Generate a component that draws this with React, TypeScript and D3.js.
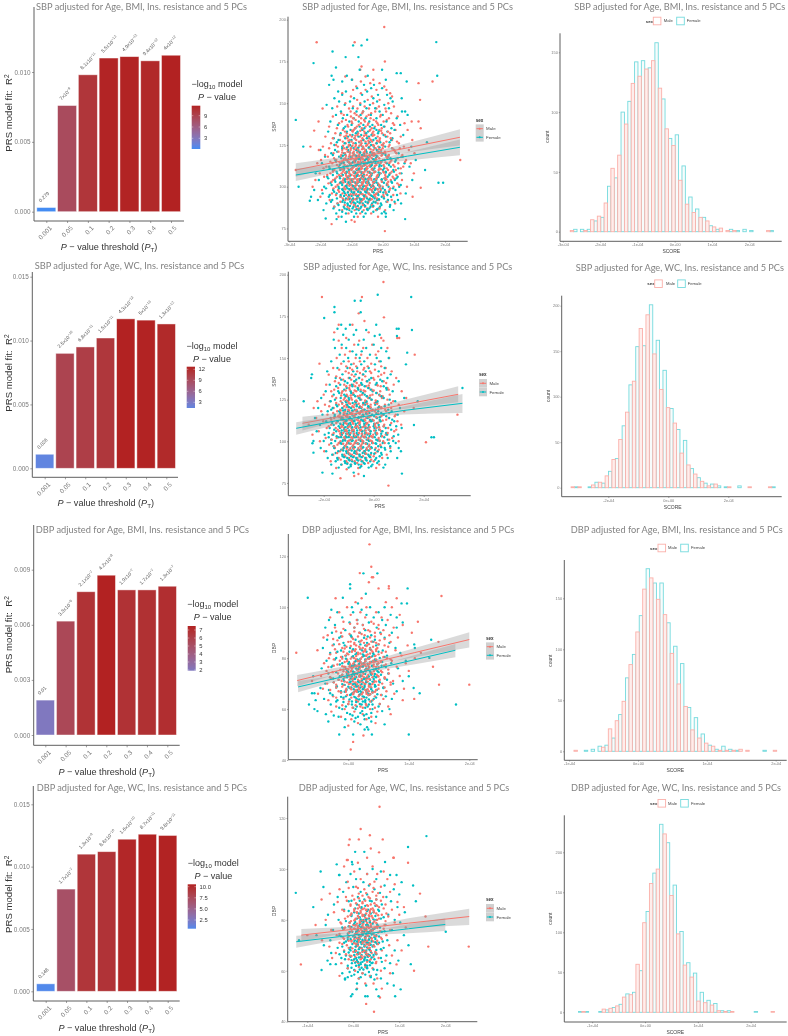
import React, { useEffect, useRef } from "react";
import * as d3 from "d3";

const thresholds = ["0.001", "0.05", "0.1", "0.2", "0.3", "0.4", "0.5"];

// R2 per threshold
const r2SbpBmi = [0.0003, 0.0076, 0.0098, 0.011, 0.0111, 0.0108, 0.0112];
const r2SbpWc = [0.0011, 0.009, 0.0095, 0.0102, 0.0117, 0.0116, 0.0113];
const r2DbpBmi = [0.0019, 0.0062, 0.0078, 0.0087, 0.0079, 0.0079, 0.0081];
const r2DbpWc = [0.0006, 0.0082, 0.011, 0.0112, 0.0122, 0.0126, 0.0125];

const pSbpBmi = ["0.279", "7x10^-9", "8.1x10^-11", "5.5x10^-12", "4.9x10^-12", "9.4x10^-12", "4x10^-12"];
const pSbpWc = ["0.026", "2.5x10^-10", "6.8x10^-11", "1.5x10^-11", "4.3x10^-13", "5x10^-13", "1.3x10^-12"];
const pDbpBmi = ["0.01", "3.3x10^-6", "2.1x10^-7", "4.2x10^-8", "1.9x10^-7", "1.7x10^-7", "1.3x10^-7"];
const pDbpWc = ["0.148", "1.7x10^-7", "1.3x10^-9", "8.6x10^-10", "1.6x10^-10", "8.7x10^-11", "9.8x10^-11"];

const titles = [
  "SBP adjusted for Age, BMI, Ins. resistance and 5 PCs",
  "SBP adjusted for Age, WC, Ins. resistance and 5 PCs",
  "DBP adjusted for Age, BMI, Ins. resistance and 5 PCs",
  "DBP adjusted for Age, WC, Ins. resistance and 5 PCs",
];

// histogram counts, 30 bins per sex
const histMaleSbpBmi = [1, 0, 1, 10, 13, 24, 53, 64, 90, 124, 130, 136, 143, 120, 86, 72, 43, 23, 16, 12, 9, 4, 3, 1, 1, 0, 0, 0, 0, 1];
const histFemaleSbpBmi = [2, 2, 2, 9, 12, 38, 45, 100, 109, 142, 143, 137, 158, 111, 78, 81, 55, 29, 19, 12, 5, 2, 0, 2, 1, 2, 1, 0, 0, 1];
const histMaleSbpWc = [1, 1, 0, 3, 6, 13, 31, 53, 83, 117, 175, 190, 147, 108, 88, 71, 38, 25, 15, 7, 2, 4, 0, 1, 0, 0, 1, 0, 0, 1];
const histFemaleSbpWc = [1, 0, 1, 6, 5, 18, 32, 68, 113, 155, 156, 201, 162, 129, 87, 64, 52, 21, 11, 5, 4, 2, 1, 0, 2, 0, 0, 0, 0, 1];
const histMaleDbpBmi = [1, 0, 0, 0, 4, 22, 30, 49, 85, 117, 159, 170, 149, 134, 96, 66, 44, 21, 13, 8, 5, 1, 1, 1, 2, 1, 0, 0, 0, 1];
const histFemaleDbpBmi = [0, 1, 2, 5, 6, 13, 36, 72, 95, 133, 179, 165, 165, 126, 103, 86, 43, 33, 17, 6, 2, 5, 2, 1, 0, 0, 0, 1, 0, 0];
const histMaleDbpWc = [0, 1, 0, 0, 4, 5, 8, 19, 22, 60, 112, 161, 179, 223, 146, 98, 59, 44, 14, 12, 9, 2, 1, 1, 0, 0, 0, 0, 0, 1];
const histFemaleDbpWc = [1, 1, 0, 1, 3, 6, 10, 23, 25, 52, 126, 174, 235, 212, 159, 101, 62, 49, 25, 15, 11, 2, 2, 0, 0, 0, 1, 0, 0, 0];

// scatter rows: first number is the outcome, the rest are PRS values in 1e-4
const maleSbpBmi = [
  [195.6, 0.05], [186.5, -2.12, -0.9], [175, 0.07], [172, -0.68], [170, -0.72, -0.3], [166, -1.2, -0.55], [164, -0.98, -0.3], [163, 1.6, -0.7], [162, 1.15, -0.4, -0.1], [160, -0.85, 0.05], [158, -0.95, -0.55, -0.2, 0.12], [156, -1.3, -0.7, 0.24], [154, -1.02, -0.35, 0.3], [152, 1.2, -0.82, -0.48, -0.1],
  [150, -1.2, -0.72, -0.31, 0.18], [148, -1.46, -0.95, -0.58, -0.12, 0.36], [146.8, -1.93, -1.08, -0.81, -0.44, -0.2, 0.09], [144, -1.33, -0.9, -0.66, -0.37, 0.27], [142, -1.6, -1.02, -0.76, -0.52, -0.08, 0.48], [140, -1.18, -0.87, -0.6, -0.29, 0.13], [139, -2.06, 0.93, 1.15], [138, -1.4, -0.98, -0.7, -0.46, -0.17, 0.33, 0.7], [136, -1.72, -1.11, -0.83, -0.55, -0.25, 0.06], [135, 1.22], [134, -1.28, -0.93, -0.64, -0.4, -0.11, 0.41, 0.8], [133.6, -2.2], [132, -1.52, -1.15, -0.79, -0.57, -0.33, -0.02, 0.24], [130, -1.84, -1.23, -0.99, -0.73, -0.49, -0.16, 0.15, 0.58], [128, -1.37, -1.06, -0.85, -0.61, -0.38, -0.1, 0.3, 0.95], [126, -1.66, -1.19, -0.94, -0.68, -0.45, -0.21, 0.03, 0.52], [124, -2.32, -1.92, -1.44, -1.1, -0.88, -0.63, -0.42, -0.14, 0.19, 0.68], [122, -2.05, -1.3, -1.03, -0.78, -0.56, -0.3, -0.05, 0.36, 0.84], [120, -1.58, -1.21, -0.96, -0.74, -0.51, -0.27, 0.08, 0.44, 1.02], [118, -1.76, -1.35, -1.08, -0.86, -0.65, -0.41, -0.18, 0.12, 0.6], [116, 2.49, -1.98, -1.49, -1.14, -0.91, -0.71, -0.47, -0.23, 0.01, 0.28, 0.75], [114, -2.1, -1.62, -1.26, -1.01, -0.8, -0.59, -0.34, -0.07, 0.21, 0.5, 0.9], [112, -1.81, -1.41, -1.17, -0.92, -0.69, -0.5, -0.26, 0.05, 0.38, 0.66], [110, -2.79, -1.55, -1.24, -1.0, -0.77, -0.54, -0.32, -0.13, 0.17, 0.42], [108, -2.02, -1.68, -1.32, -1.07, -0.84, -0.62, -0.39, -0.09, 0.23, 0.55, 1.0], [106, -1.88, -1.47, -1.16, -0.89, -0.67, -0.43, -0.19, 0.1, 0.32], [104, -2.16, -1.59, -1.27, -1.04, -0.82, -0.6, -0.36, -0.04, 0.26, 0.62], [102, -1.74, -1.38, -1.12, -0.87, -0.64, -0.44, -0.15, 0.14, 0.47], [100, -2.25, -1.51, -1.22, -0.97, -0.75, -0.53, -0.28, 0.0, 0.35, 0.78], [99.4, 1.22], [98, -1.95, -1.43, -1.05, -0.83, -0.58, -0.35, -0.06, 0.22], [96, -1.63, -1.29, -0.93, -0.7, -0.46, -0.2, 0.11, 0.57], [94, 0.96, -2.0, -1.36, -1.09, -0.79, -0.52, -0.24, 0.04], [92, -1.7, -1.2, -0.95, -0.66, -0.4, -0.12, 0.29], [90, -1.45, -1.01, -0.74, -0.48, -0.16, 0.4], [88, -1.56, -1.13, -0.86, -0.57, -0.31], [86, -1.3, -0.9, -0.61, -0.22, 0.08], [84, -1.1, -0.72, -0.37], [82, -1.42, -0.8, -0.15], [80, -1.0], [79, -0.9], [77.6, -1.64], [73.4, 0.07],
];
const maleCoreSbpBmi = [
  [145, -1.03, -0.63, -0.24, 0.11], [143, -1.25, -0.84, -0.45, -0.06], [141, -0.95, -0.69, -0.39, 0.2], [139, -1.31, -1.0, -0.57, -0.21, 0.03], [137, -1.13, -0.77, -0.48, -0.14, 0.37], [135, -1.47, -0.89, -0.67, -0.35, -0.03], [133, -1.21, -0.96, -0.59, -0.3, 0.17], [131, -1.36, -1.05, -0.81, -0.53, -0.27, 0.07], [129, -1.6, -1.14, -0.9, -0.65, -0.43, -0.09, 0.26], [127, -1.28, -1.0, -0.76, -0.55, -0.34, -0.12, 0.12, 0.46], [125, -1.5, -1.09, -0.86, -0.7, -0.5, -0.31, -0.03, 0.22], [123, -1.72, -1.24, -1.02, -0.82, -0.62, -0.44, -0.23, 0.0, 0.31, 0.55], [121, -1.42, -1.13, -0.93, -0.73, -0.57, -0.37, -0.17, 0.07, 0.4], [119, -1.85, -1.33, -1.06, -0.9, -0.75, -0.6, -0.42, -0.25, -0.02, 0.2, 0.63], [117, -1.56, -1.2, -0.98, -0.83, -0.68, -0.52, -0.35, -0.11, 0.15, 0.48], [115, -1.68, -1.3, -1.1, -0.94, -0.79, -0.63, -0.46, -0.29, -0.06, 0.25, 0.72], [113, -1.47, -1.22, -1.03, -0.87, -0.72, -0.55, -0.4, -0.2, 0.03, 0.34], [111, -1.9, -1.37, -1.12, -0.97, -0.81, -0.66, -0.49, -0.33, -0.1, 0.13, 0.58], [109, -1.6, -1.28, -1.08, -0.9, -0.74, -0.58, -0.42, -0.24, 0.02, 0.29], [107, -1.78, -1.4, -1.18, -1.0, -0.85, -0.69, -0.51, -0.37, -0.16, 0.08, 0.44], [105, -1.52, -1.25, -1.06, -0.88, -0.71, -0.56, -0.38, -0.2, 0.06, 0.36], [103, -1.64, -1.33, -1.1, -0.93, -0.78, -0.61, -0.47, -0.26, -0.03, 0.18], [101, -1.45, -1.15, -0.99, -0.84, -0.67, -0.49, -0.32, -0.11, 0.16, 0.52], [99, -1.58, -1.26, -1.02, -0.86, -0.68, -0.54, -0.3, -0.08, 0.24], [97, -1.4, -1.11, -0.91, -0.72, -0.5, -0.33, -0.13, 0.09], [95, -1.5, -1.17, -0.94, -0.76, -0.56, -0.27, 0.02, 0.34], [93, -1.28, -1.04, -0.83, -0.6, -0.41, -0.18], [91, -1.36, -0.97, -0.69, -0.45, -0.23, 0.15], [89, -1.22, -0.92, -0.64, -0.34], [87, -1.08, -0.78, -0.5, -0.1],
];
const maleDenseSbpBmi = [
  [133.5, -0.98, -0.72, -0.42, -0.05], [130.5, -1.17, -0.88, -0.6, -0.32], [127.5, -1.1, -0.69, -0.46, -0.18], [124.5, -1.27, -0.97, -0.75, -0.53, -0.28, 0.02], [122.5, -1.16, -0.9, -0.66, -0.39, -0.12], [120.5, -1.3, -1.06, -0.82, -0.61, -0.33, -0.08], [118.5, -1.18, -0.97, -0.79, -0.54, -0.29, -0.04, 0.18], [116.5, -1.25, -1.04, -0.86, -0.63, -0.44, -0.21], [114.5, -1.38, -1.08, -0.9, -0.73, -0.56, -0.37, -0.14, 0.09], [112.5, -1.13, -0.95, -0.77, -0.61, -0.43, -0.25], [110.5, -1.29, -1.01, -0.85, -0.7, -0.52, -0.35, -0.06], [108.5, -1.2, -0.94, -0.8, -0.64, -0.47, -0.28, 0.04], [106.5, -1.33, -1.09, -0.92, -0.76, -0.59, -0.41, -0.17], [104.5, -1.14, -0.96, -0.79, -0.63, -0.46, -0.22, 0.12], [102.5, -1.26, -1.03, -0.83, -0.66, -0.5, -0.31], [100.5, -1.07, -0.89, -0.72, -0.55, -0.36, -0.1], [98.5, -1.2, -0.95, -0.78, -0.6, -0.4, -0.16], [95.5, -1.03, -0.85, -0.65, -0.43, -0.22], [92.5, -1.12, -0.88, -0.62, -0.35],
];
const femaleSbpBmi = [
  [188, -0.5], [186.6, 1.72], [184.6, -0.95, -0.68], [181, -1.61], [177.6, -1.19, -0.78], [174, -2.22], [171.4, -1.5], [170, -0.02, -0.74], [168, 0.45, 0.58], [166.4, -1.64, 1.75, -1.15, -0.48], [164, -1.58, -0.99, 0.1], [163, 0.77, -1.3], [161, -1.72, -0.6, -0.28], [159, -0.82, -0.37, -0.02], [157, -1.43, -1.18, -0.5], [155, -1.3, -0.66, -0.15, 0.14], [153, 0.61, -1.55, -0.92, -0.3, 0.25],
  [151, -1.4, -1.05, -0.58, -0.18, 0.32], [149, -1.8, -1.22, -0.72, -0.41, 0.05], [147, -1.62, -0.96, -0.52, -0.24, 0.2], [145, -1.34, -0.84, -0.63, -0.1, 0.62, 0.72], [143, -1.5, -1.14, -0.71, -0.38, 0.0, 0.8], [141, -1.28, -0.93, -0.55, -0.2, 0.45], [140, -2.79], [139, -1.68, -1.07, -0.77, -0.43, 0.12], [137, -1.44, -1.0, -0.62, -0.33, -0.05, 0.56], [135, -1.25, -0.88, -0.59, -0.27, 0.28], [133, -1.75, -1.15, -0.81, -0.47, -0.13, 0.15], [131, -1.37, -0.97, -0.69, -0.36, 0.03, 0.66], [129, -1.57, -1.2, -0.9, -0.51, -0.22, 0.31], [126.6, 1.42, -1.47, -1.08, -0.75, -0.42, -0.08, 0.22], [124, -2.55, -1.3, -0.99, -0.65, -0.29, 0.08, 0.92], [122, -2.0, -1.53, -1.11, -0.85, -0.54, -0.19, 0.37], [120, -1.65, -1.24, -0.94, -0.6, -0.32, 0.02, 0.51], [118, -1.85, -1.4, -1.03, -0.76, -0.49, -0.17, 0.18, 0.64], [116, -1.52, -1.17, -0.87, -0.57, -0.26, 0.06, 0.42, 1.06], [114, -1.95, -1.33, -1.06, -0.79, -0.5, -0.23, 0.13, 0.7], [112, -1.72, -1.26, -0.96, -0.68, -0.4, -0.11, 0.26, 0.86], [110, 1.36, -1.6, -1.36, -1.09, -0.83, -0.56, -0.3, 0.01, 0.34], [108, -2.15, -1.46, -1.19, -0.91, -0.67, -0.35, -0.07, 0.24, 0.6], [106, -1.78, -1.38, -1.12, -0.86, -0.61, -0.41, -0.14, 0.16, 0.48], [104, -2.05, -1.54, -1.23, -1.0, -0.73, -0.46, -0.21, 0.09, 0.39, 0.95], [102.4, 1.79, 1.94, -1.67, -1.31, -1.04, -0.8, -0.53, -0.28, 0.04, 0.3], [100, -2.7, -1.88, -1.42, -1.16, -0.89, -0.63, -0.37, -0.1, 0.19, 0.53], [98, -2.2, -1.59, -1.28, -1.02, -0.78, -0.5, -0.25, 0.07, 0.41], [96, -1.93, -1.48, -1.21, -0.95, -0.7, -0.44, -0.16, 0.11, 0.74], [94, -2.3, -1.73, -1.35, -1.1, -0.82, -0.58, -0.31, -0.03, 0.27], [92, -2.08, -1.62, -1.27, -0.98, -0.72, -0.45, -0.18, 0.17, 0.49], [91.6, -2.34], [90, -1.81, -1.45, -1.13, -0.88, -0.64, -0.34, -0.06, 0.59], [88, -1.55, -1.25, -0.94, -0.69, -0.39, -0.09, 0.23], [86, -1.9, -1.39, -1.07, -0.77, -0.48, -0.2, 0.35], [84, -1.49, -1.18, -0.85, -0.55, -0.03, 0.1], [82, -0.61, -1.32, -0.92, 0.1], [81, -1.83], [80.6, -1.48, 0.72], [79, -1.18],
];
const femaleCoreSbpBmi = [
  [136, -1.2, -0.74, -0.41, 0.04], [134, -1.03, -0.66, -0.2, 0.38], [132, -1.35, -0.86, -0.53, -0.15], [130, -1.11, -0.78, -0.44, 0.1], [128, -1.42, -1.0, -0.63, -0.3, 0.27], [126, -1.22, -0.87, -0.55, -0.19], [125, -1.55, -1.05, -0.7, -0.37, 0.0], [123, -1.3, -0.93, -0.62, -0.25, 0.3], [121, -1.46, -1.1, -0.8, -0.52, -0.13], [119, -1.6, -1.2, -0.91, -0.66, -0.34, 0.09], [117, -1.33, -1.0, -0.72, -0.47, -0.22, 0.25], [115, -1.5, -1.12, -0.88, -0.63, -0.38, -0.04, 0.4], [113, -1.38, -1.04, -0.82, -0.59, -0.35, -0.1, 0.2], [111, -1.7, -1.24, -0.99, -0.75, -0.54, -0.27, 0.05, 0.5], [109, -1.48, -1.16, -0.93, -0.71, -0.48, -0.24, 0.1, 0.36], [107, -1.6, -1.28, -1.03, -0.8, -0.6, -0.36, -0.12, 0.21], [105, -1.75, -1.37, -1.11, -0.9, -0.69, -0.46, -0.19, 0.06, 0.44], [103, -1.52, -1.2, -0.97, -0.76, -0.52, -0.3, -0.02, 0.28], [101, -1.64, -1.3, -1.06, -0.84, -0.65, -0.41, -0.15, 0.13, 0.58], [99, -1.82, -1.4, -1.13, -0.92, -0.71, -0.49, -0.23, 0.0, 0.33], [97, -1.56, -1.24, -1.0, -0.79, -0.56, -0.33, -0.08, 0.2], [95, -1.7, -1.35, -1.08, -0.87, -0.62, -0.39, -0.14, 0.15, 0.46], [93, -1.47, -1.18, -0.95, -0.74, -0.5, -0.26, 0.04], [91, -1.66, -1.3, -1.04, -0.81, -0.55, -0.29, 0.12, 0.38], [89, -1.42, -1.12, -0.9, -0.6, -0.36, -0.04, 0.24], [87, -1.58, -1.22, -0.97, -0.72, -0.43, -0.13], [85, -1.3, -1.0, -0.66, -0.3, 0.05],
];
const femaleDenseSbpBmi = [
  [123.5, -1.15, -0.78, -0.45, -0.1], [120.5, -1.05, -0.72, -0.4, -0.05], [118.5, -1.28, -0.84, -0.58, -0.2], [116.5, -1.1, -0.77, -0.52, -0.3], [114.5, -1.25, -0.96, -0.7, -0.44, -0.16], [112.5, -1.13, -0.86, -0.62, -0.37, -0.04], [110.5, -1.3, -1.03, -0.77, -0.57, -0.33], [108.5, -1.16, -0.88, -0.66, -0.43, -0.13, 0.1], [106.5, -1.33, -1.06, -0.82, -0.64, -0.38], [104.5, -1.2, -0.98, -0.74, -0.55, -0.27, -0.03], [102.5, -1.36, -1.09, -0.87, -0.68, -0.46, -0.2], [100.5, -1.18, -0.95, -0.75, -0.58, -0.32, -0.08], [98.5, -1.3, -1.07, -0.86, -0.65, -0.42, -0.17], [96.5, -1.12, -0.92, -0.71, -0.53, -0.29, 0.02], [94.5, -1.24, -1.0, -0.8, -0.6, -0.35], [92.5, -1.08, -0.85, -0.67, -0.41, -0.12], [90.5, -1.22, -0.93, -0.74, -0.48, -0.23], [88.5, -1.05, -0.8, -0.56, -0.3], [86.5, -1.15, -0.84, -0.5, -0.18],
];
const maleSbpWc = [
  [195.6, 0.39], [186.6, -2.07, -0.47], [176.8, -0.6], [174.4, 0.41], [172.2, -0.37], [170, -1.4, -0.85], [165.4, -1.58, -0.2], [162, 1.02, 0.94, -1.1, 0.3], [160.4, 0.39, -0.58, -1.4], [158, -0.78, -0.06], [156, -1.28, -0.42, 0.55], [154, -0.95, 0.18], [152, 1.64, -1.15, -0.5, 0.08],
  [150, -1.48, -0.72, -0.25, 0.62], [148, -1.0, -0.55, 0.22], [146.6, -2.17, -1.3, -0.8, -0.1], [144, -1.62, -0.95, -0.38, 0.48], [142, -1.12, -0.66, -0.15, 0.72], [140, -1.8, -0.88, -0.44, 0.3], [138, -1.35, -1.0, -0.6, -0.02, 0.9], [136, -1.55, -0.75, -0.28, 0.4], [134, -1.9, -1.18, -0.82, -0.5, 0.12, 0.8], [132, -1.42, -0.98, -0.62, -0.18, 0.55], [130, -1.7, -1.25, -0.7, -0.34, 0.26, 1.12], [128, -2.0, -1.08, -0.84, -0.47, -0.05, 0.64], [126, -1.5, -1.16, -0.9, -0.56, -0.22, 0.33, 1.3], [124, -2.25, -1.75, -1.32, -1.02, -0.68, -0.32, 0.1, 0.78], [122, -1.95, -1.4, -1.1, -0.77, -0.43, -0.12, 0.45, 1.0], [120, -2.4, -1.6, -1.24, -0.92, -0.58, -0.24, 0.18, 0.7, 1.6], [118, -2.1, -1.46, -1.14, -0.83, -0.52, -0.2, 0.04, 0.5, 1.22], [116, 3.35, -1.85, -1.36, -1.05, -0.74, -0.4, -0.08, 0.36, 0.88], [114, -2.3, -1.58, -1.22, -0.94, -0.63, -0.3, 0.14, 0.6], [112, -2.02, -1.44, -1.12, -0.86, -0.54, -0.16, 0.24, 0.95], [110, -2.6, -1.7, -1.3, -1.0, -0.71, -0.36, 0.02, 0.42, 1.1], [108, -1.88, -1.52, -1.19, -0.89, -0.6, -0.26, 0.11, 0.58], [106, -2.2, -1.38, -1.07, -0.79, -0.46, -0.14, 0.3, 0.82], [104, -2.45, -1.66, -1.27, -0.97, -0.67, -0.35, -0.02, 0.48], [102, -1.92, -1.48, -1.15, -0.84, -0.53, -0.21, 0.2, 0.74], [100, -2.15, -1.33, -1.03, -0.72, -0.42, -0.07, 0.38, 1.0], [99.4, 2.09], [98, -1.78, -1.45, -1.1, -0.81, -0.49, -0.17, 0.26], [96, -1.55, -1.21, -0.93, -0.61, -0.28, 0.08, 0.66], [94, -1.98, -1.35, -1.04, -0.7, -0.39, 0.16], [92, -1.62, -1.18, -0.87, -0.55, -0.12, 0.52], [90, -1.4, -0.98, -0.65, -0.3, 0.34], [88, -1.72, -1.1, -0.76, -0.44, 0.0], [86, -1.28, -0.9, -0.5, 0.22], [84, -1.5, -0.62, 0.1], [83.2, -1.08], [80.4, -0.61], [79.2, -0.78], [77.8, -1.33], [73.4, 0.59],
];
const maleCoreSbpWc = [
  [145, -1.1, -0.7, -0.24, 0.3], [143, -1.38, -0.86, -0.41, 0.05], [141, -1.0, -0.55, -0.1, 0.42], [139, -1.5, -0.78, -0.34, 0.18], [137, -1.22, -0.9, -0.46, 0.02], [135, -1.4, -0.68, -0.16, 0.5], [133, -1.1, -0.74, -0.3, 0.28], [131, -1.58, -0.96, -0.52, -0.08, 0.6], [129, -1.28, -0.82, -0.42, 0.13], [127, -1.66, -1.05, -0.64, -0.26, 0.36], [125, -1.2, -0.87, -0.5, -0.1, 0.55], [123, -1.5, -1.0, -0.72, -0.37, 0.04, 0.7], [121, -1.78, -1.18, -0.85, -0.55, -0.2, 0.22], [119, -1.34, -1.02, -0.68, -0.4, -0.04, 0.46], [117, -1.62, -1.2, -0.9, -0.6, -0.31, 0.1, 0.62], [115, -1.42, -1.09, -0.78, -0.48, -0.13, 0.3, 0.84], [113, -1.7, -1.3, -0.98, -0.69, -0.38, -0.06, 0.5], [111, -1.5, -1.14, -0.84, -0.56, -0.25, 0.16, 0.7], [109, -1.8, -1.26, -0.95, -0.65, -0.33, 0.06, 0.4], [107, -1.44, -1.1, -0.8, -0.5, -0.18, 0.25, 0.9], [105, -1.6, -1.22, -0.92, -0.59, -0.29, 0.12, 0.56], [103, -1.32, -1.0, -0.73, -0.44, -0.1, 0.34], [101, -1.68, -1.16, -0.88, -0.57, -0.24, 0.17, 0.62], [99, -1.4, -1.06, -0.76, -0.45, -0.03, 0.44], [97, -1.58, -1.13, -0.83, -0.52, -0.19, 0.28], [95, -1.25, -0.96, -0.6, -0.27, 0.2], [93, -1.46, -1.02, -0.7, -0.35, 0.07], [91, -1.14, -0.79, -0.43, 0.0], [89, -1.32, -0.88, -0.53, -0.1], [87, -1.05, -0.66, -0.22],
];
const maleDenseSbpWc = [
  [133.5, -0.95, -0.58, -0.2, 0.16], [130.5, -1.12, -0.76, -0.4, 0.0], [127.5, -1.3, -0.92, -0.55, -0.14, 0.24], [124.5, -1.08, -0.7, -0.34, 0.08], [122.5, -1.26, -0.94, -0.6, -0.26, 0.14], [120.5, -1.08, -0.8, -0.48, -0.12, 0.3], [118.5, -1.32, -0.98, -0.72, -0.44, -0.1], [116.5, -1.16, -0.86, -0.56, -0.24, 0.18], [114.5, -1.36, -1.04, -0.76, -0.52, -0.2, 0.1], [112.5, -1.2, -0.9, -0.62, -0.34, 0.0, 0.36], [110.5, -1.08, -0.82, -0.58, -0.28, 0.06], [108.5, -1.3, -1.02, -0.74, -0.44, -0.16, 0.22], [106.5, -1.14, -0.87, -0.54, -0.32, 0.02], [104.5, -1.34, -1.06, -0.78, -0.48, -0.2, 0.14], [102.5, -1.18, -0.9, -0.62, -0.36, -0.04], [100.5, -0.98, -0.7, -0.46, -0.13, 0.24], [98.5, -1.22, -0.92, -0.64, -0.32], [95.5, -1.08, -0.8, -0.5, -0.14], [92.5, -0.96, -0.66, -0.3],
];
const femaleSbpWc = [
  [188, 0.16], [186.6, 1.5], [184.4, -0.76, -0.52], [180.6, -1.57], [177.5, -1.57, -0.52], [174, -1.98], [170, -1.3, -0.95, 0.1], [167.6, 1.0, 0.92, -1.45, -1.12], [166.8, 1.53, -0.7, -0.3], [164, -1.22, -0.8, 0.24], [163.2, 0.93, 0.04], [161, -1.6, -1.0, -0.4], [158, -0.62, 0.0, -1.28], [156, -1.55, -1.1, -0.3, 0.3], [154, -0.85, -0.48, 0.5],
  [153.2, 1.34], [152, -1.36, -0.7, -0.15], [150, -1.02, -0.56, 0.12, 0.6], [148, -1.7, -1.2, -0.38, 0.28], [146.2, 1.29, -0.9, -0.5, 0.05], [144, -1.45, -1.05, -0.66, -0.2, 0.44], [142, -1.86, -0.82, -0.32, 0.2], [140.2, -2.47, -1.25, -0.72, -0.42, 0.68], [138, -2.5, -1.52, -0.96, -0.58, -0.1, 0.55], [136, -1.15, -0.78, -0.26, 0.34, 1.0], [134, -1.76, -1.34, -0.88, -0.46, 0.08], [132, 3.55, -1.08, -0.64, -0.22, 0.5], [130, -1.92, -1.42, -0.92, -0.52, -0.04, 0.76], [128, -1.6, -1.18, -0.8, -0.36, 0.22], [126, -2.1, -1.32, -1.0, -0.6, -0.16, 0.4, 1.22], [124, -2.8, 1.76, -1.72, -1.12, -0.74, -0.29, 0.15, 0.86], [122, -1.5, -1.06, -0.68, -0.34, 0.06, 0.6], [120, -2.22, -1.64, -1.26, -0.9, -0.5, -0.13, 0.3, 1.05], [118, -1.84, -1.38, -1.02, -0.66, -0.27, 0.18, 0.72], [116, -2.05, -1.56, -1.2, -0.86, -0.44, -0.06, 0.4, 0.96], [114, -2.35, -1.72, -1.3, -0.98, -0.6, -0.24, 0.12, 0.62], [112, -1.9, -1.44, -1.14, -0.78, -0.4, -0.1, 0.28, 0.82], [109.8, 1.61, -2.15, -1.6, -1.22, -0.92, -0.56, -0.2, 0.2, 0.66], [108, -1.76, -1.35, -1.04, -0.7, -0.33, 0.03, 0.48, 1.12], [106, -2.28, -1.5, -1.16, -0.84, -0.47, -0.12, 0.35], [104, -1.96, -1.62, -1.28, -0.95, -0.62, -0.25, 0.1, 0.54, 0.98], [102.4, 2.31, 2.41, -1.8, -1.4, -1.08, -0.75, -0.38, -0.04, 0.42], [100.2, -2.41, -2.0, -1.54, -1.24, -0.88, -0.52, -0.18, 0.24, 0.78], [98.8, -2.45, -1.7, -1.32, -1.0, -0.65, -0.31, 0.07, 0.6], [96, -2.12, -1.58, -1.2, -0.82, -0.45, -0.08, 0.44, 1.0], [94, 1.09, -1.9, -1.42, -1.1, -0.76, -0.36, 0.16, 0.68], [93.2, -2.41], [92, -1.66, -1.26, -0.96, -0.58, -0.22, 0.32], [90, 0.94, -1.84, -1.46, -1.06, -0.7, -0.34, 0.1, 0.56], [88, -1.52, -1.16, -0.86, -0.48, -0.14, 0.2], [86, -1.7, -1.3, -0.92, -0.6, -0.05, 0.46], [84.2, 0.39, -1.4, -1.0, -0.55, -0.2], [81.2, -2.05, -0.8], [80.6, -1.65, 1.13], [79.2, -0.39],
];
const femaleCoreSbpWc = [
  [137, -1.3, -0.7, -0.18, 0.26], [135, -1.05, -0.5, 0.12], [133, -1.5, -0.85, -0.36, 0.4], [131, -1.18, -0.62, -0.12, 0.52], [129, -1.38, -0.9, -0.44, 0.1], [127, -1.12, -0.74, -0.28, 0.3], [125, -1.55, -0.98, -0.54, -0.08, 0.64], [123, -1.26, -0.84, -0.42, 0.14], [121, -1.46, -1.04, -0.68, -0.22, 0.44], [119, -1.7, -1.14, -0.76, -0.36, 0.08, 0.58], [117, -1.34, -0.94, -0.55, -0.17, 0.3], [115, -1.56, -1.1, -0.8, -0.42, 0.02, 0.5], [113, -1.24, -0.88, -0.5, -0.15, 0.24, 0.74], [111, -1.66, -1.2, -0.94, -0.62, -0.3, 0.14], [109, -1.4, -1.04, -0.72, -0.38, 0.0, 0.4, 0.9], [107, -1.58, -1.18, -0.86, -0.54, -0.2, 0.22, 0.7], [105, -1.8, -1.3, -1.0, -0.68, -0.34, 0.07, 0.5], [103, -1.48, -1.12, -0.8, -0.48, -0.16, 0.3, 0.8], [101, -1.7, -1.22, -0.92, -0.6, -0.28, 0.1, 0.56], [99, -1.36, -1.06, -0.74, -0.42, -0.06, 0.36, 0.88], [97, -1.6, -1.16, -0.84, -0.52, -0.2, 0.18, 0.66], [95, -1.3, -0.98, -0.64, -0.3, 0.05, 0.46], [93, -1.52, -1.08, -0.78, -0.44, -0.1, 0.3], [91, -1.24, -0.9, -0.56, -0.18, 0.24], [89, -1.44, -1.0, -0.68, -0.32, 0.06], [87, -1.14, -0.76, -0.4, 0.14], [85, -0.92, -0.5, -0.1],
];
const femaleDenseSbpWc = [
  [123.5, -1.1, -0.72, -0.3, 0.1], [120.5, -0.98, -0.56, -0.18, 0.2], [118.5, -1.22, -0.86, -0.46, -0.06], [116.5, -1.06, -0.7, -0.3, 0.12], [114.5, -1.28, -0.96, -0.6, -0.22, 0.24], [112.5, -1.08, -0.78, -0.44, -0.04], [110.5, -1.34, -1.02, -0.72, -0.38, 0.02], [108.5, -1.14, -0.86, -0.52, -0.2, 0.2], [106.5, -1.28, -0.98, -0.66, -0.36, 0.08], [104.5, -1.1, -0.8, -0.46, -0.14, 0.3], [102.5, -1.3, -1.0, -0.68, -0.32, 0.04], [100.5, -1.14, -0.84, -0.5, -0.2, 0.16], [98.5, -1.28, -0.94, -0.6, -0.26, 0.1], [96.5, -1.06, -0.76, -0.42, -0.1, 0.3], [94.5, -1.22, -0.88, -0.56, -0.2], [92.5, -1.0, -0.7, -0.34, 0.02], [90.5, -1.18, -0.82, -0.48, -0.14], [88.5, -0.96, -0.62, -0.28], [86.5, -1.06, -0.74, -0.36],
];
const maleDbpBmi = [
  [124.7, 0.35], [115.9, 0.38], [113.4, 0.19], [111.8, 0.39, 0.41], [109.8, 0.34], [108.3, 0.67], [107.4, 0.67, 0.5], [104.4, 1.54], [103.5, -0.21, 0.8, 0.22], [102, 0.12, 0.62], [100, -0.02, 0.3, 0.72], [98, -0.15, 0.2, 0.46], [97, 0.85, 0.04], [96, -0.3, 0.28, 0.55], [95, 0.14, 0.65],
  [94.3, 1.15, -0.08, 0.38], [93, 0.24, 0.5, 0.9], [92, -0.22, 0.1, 0.75], [91, 0.33, 0.58], [90, -0.12, 0.18, 0.44, 1.05], [89, -0.34, 0.27, 0.68], [88.1, -0.41, 0.06, 0.36, 0.82], [87, -0.18, 0.22, 0.52], [86.4, 1.49, 0.0, 0.42, 0.7], [85, -0.26, 0.13, 0.31, 0.6, 0.98], [84, -0.1, 0.24, 0.48], [83.1, -0.51, 0.07, 0.38, 0.78], [82.1, -0.86, -0.2, 0.16, 0.55, 1.2], [81, -0.05, 0.29, 0.45, 0.88], [80, -0.32, 0.1, 0.35, 0.64, 1.1], [79, -0.14, 0.19, 0.41, 0.72], [78, -0.4, 0.02, 0.26, 0.5, 0.95], [77, -0.24, 0.12, 0.33, 0.59], [76.6, 1.4, -0.07, 0.21, 0.46, 0.8], [75, -0.36, 0.05, 0.28, 0.54, 1.0], [74, -0.17, 0.15, 0.39, 0.67], [73, -0.45, 0.01, 0.23, 0.49, 0.85], [72, -0.28, 0.09, 0.32, 0.61], [71, -0.6, -0.11, 0.18, 0.43, 0.74], [70, -0.35, 0.04, 0.27, 0.56], [69.6, 1.5, 2.0, -0.2, 0.14, 0.37, 0.7], [68, -0.42, -0.03, 0.25, 0.5, 0.92], [67, -0.16, 0.11, 0.34, 0.63], [66, -0.5, 0.06, 0.3, 0.76], [65, -0.25, 0.17, 0.44], [64, 1.09, -0.08, 0.22, 0.58], [63.5, 0.9, -0.33, 0.13, 0.4], [62, 0.0, 0.29, 0.52], [61, -0.2, 0.2, 0.66], [60, -0.06, 0.36], [59, -0.28, 0.1, 0.48], [58, 0.24, 0.7], [57, -0.12, 0.38], [56, 0.05, 0.3], [54.5, 0.16, 0.45], [53.5, 0.0], [49.6, 0.25], [47.1, 0.08], [44.1, 0.04],
];
const maleCoreDbpBmi = [
  [93.5, 0.15, 0.42, 0.03], [91.5, -0.08, 0.26, 0.5], [90.5, 0.1, 0.36, -0.2], [89.5, 0.02, 0.22, 0.54], [88.5, -0.1, 0.16, 0.44], [87.5, -0.25, 0.08, 0.3, 0.6], [86.5, 0.04, 0.2, 0.38], [85.5, -0.15, 0.1, 0.34, 0.5], [84.5, -0.03, 0.18, 0.41, 0.66], [83.5, -0.22, 0.12, 0.28, 0.46], [82.5, -0.08, 0.06, 0.25, 0.4, 0.62], [81.5, -0.3, 0.0, 0.16, 0.32, 0.5], [80.5, -0.12, 0.07, 0.23, 0.38, 0.58], [79.5, -0.24, -0.02, 0.13, 0.3, 0.46, 0.7], [78.5, -0.06, 0.1, 0.2, 0.36, 0.54], [77.5, -0.18, 0.03, 0.17, 0.27, 0.42, 0.62], [76.5, -0.33, -0.05, 0.08, 0.24, 0.35, 0.5], [75.5, -0.13, 0.0, 0.15, 0.3, 0.44, 0.66], [74.5, -0.26, -0.03, 0.1, 0.22, 0.37, 0.56], [73.5, -0.1, 0.06, 0.19, 0.33, 0.47], [72.5, -0.3, -0.06, 0.11, 0.26, 0.4, 0.6], [71.5, -0.16, 0.02, 0.16, 0.29, 0.52], [70.5, -0.24, -0.02, 0.12, 0.24, 0.42, 0.7], [69.5, -0.08, 0.07, 0.2, 0.34, 0.5], [68.5, -0.2, 0.03, 0.17, 0.38, 0.6], [67.5, -0.3, -0.04, 0.13, 0.28, 0.46], [66.5, -0.12, 0.09, 0.24, 0.4], [65.5, -0.02, 0.18, 0.33, 0.54], [64.5, -0.2, 0.05, 0.26], [63, 0.01, 0.16, 0.36], [61.5, -0.1, 0.12, 0.3], [60.5, 0.07, 0.24, 0.44],
];
const maleDenseDbpBmi = [
  [86, 0.26, 0.1, 0.46], [84.8, 0.04, 0.3], [83.8, 0.2, 0.36, -0.06], [82.8, 0.11, 0.28, 0.46], [81.8, -0.02, 0.2, 0.36], [80.8, 0.13, 0.3, 0.44], [79.8, 0.04, 0.21, 0.34, -0.1], [78.8, -0.02, 0.16, 0.28, 0.42], [77.8, 0.08, 0.22, 0.35, 0.48], [76.8, -0.1, 0.02, 0.14, 0.29, 0.42], [75.8, 0.06, 0.19, 0.33, 0.5], [74.8, -0.08, 0.04, 0.17, 0.29, 0.42], [73.8, 0.0, 0.13, 0.25, 0.4], [72.8, -0.12, 0.03, 0.18, 0.31, 0.5], [71.8, 0.07, 0.22, 0.35], [70.8, -0.06, 0.08, 0.2, 0.32, 0.46], [69.8, 0.01, 0.15, 0.28, 0.4], [68.8, -0.1, 0.1, 0.23, 0.34], [67.8, 0.05, 0.18, 0.32], [66.8, -0.04, 0.14, 0.3, 0.44], [65.8, 0.08, 0.22, 0.36],
];
const femaleDbpBmi = [
  [113.3, 0.48, 0.25], [109, 0.03], [107.4, 0.03, 0.98], [105.3, 0.29], [103.7, -0.67, -0.09], [101.5, 0.88, 0.97, 0.16], [100, 0.06, 0.36, 0.6], [99, -0.28, 0.22], [98, -0.18, 0.08, 0.5], [97, 0.3, 0.7], [96, -0.1, 0.42, 0.8], [95, -0.32, 0.15, 0.56], [94, 0.02, 0.34, 0.9], [93, -0.22, 0.24, 0.62],
  [92, -0.38, 0.1, 0.47, 0.8], [91, -0.05, 0.28], [90, -0.27, 0.19, 0.53, 0.72], [89, 0.04, 0.38], [88, -0.15, 0.26, 0.6], [87.2, 1.37, -0.35, 0.12, 0.44], [86, -0.08, 0.31, 0.68], [85.4, 1.09, -0.24, 0.2, 0.5], [84, 1.1, -0.42, 0.03, 0.36, 0.78], [83, -0.12, 0.23, 0.57], [82, -0.3, 0.14, 0.41, 0.86], [81, -0.04, 0.27, 0.64], [80.1, 1.34, -0.2, 0.09, 0.33, 0.52], [79, -0.36, 0.17, 0.46, 0.95], [78, -0.1, 0.25, 0.71], [77, -0.26, 0.06, 0.39, 0.55], [76, -0.44, 0.13, 0.3, 0.82], [75, -0.02, 0.21, 0.48], [74, -0.33, 0.08, 0.37, 0.66], [72.9, -0.58, -0.14, 0.18, 0.43, 1.0], [72, -0.25, 0.04, 0.29, 0.6], [71, -0.07, 0.22, 0.51, 0.9], [70, -0.38, 0.11, 0.35, 0.74], [69, -0.19, 0.16, 0.45], [68.3, 1.08, -0.46, 0.02, 0.26, 0.58], [67, -0.12, 0.2, 0.4, 0.8], [66.2, -0.6, -0.56, 1.18, -0.3, 0.07, 0.32], [65, -0.04, 0.24, 0.62], [64, -0.4, 0.14, 0.42, 0.72], [63.5, -0.54, -0.18, 0.28], [62, 0.0, 0.19, 0.52], [61.8, -0.65, 1.78, -0.29, 0.34], [60, -0.56, -0.1, 0.12, 0.4, 0.68], [59.2, -0.51, 0.23, 0.56], [58, -0.37, 0.03, 0.3], [57, -0.16, 0.16, 0.46], [56, -0.05, 0.27], [55.1, -0.33, 0.1, 0.38], [54, 0.2, 0.6], [52.9, -0.06, 0.31], [52, 0.33, 0.27], [50, 1.0, -0.15, 0.08, 0.39],
];
const femaleCoreDbpBmi = [
  [88.5, 0.05, 0.32, -0.12], [86.5, 0.18, 0.4], [85, -0.06, 0.28, 0.46], [83.5, 0.08, 0.2, 0.36], [82.5, -0.18, 0.02, 0.3, 0.5], [81.5, 0.12, 0.24, 0.42], [80.5, -0.1, 0.06, 0.35, 0.6], [79.5, -0.22, 0.15, 0.28, 0.44], [78.5, 0.01, 0.2, 0.38, 0.56], [77.5, -0.14, 0.1, 0.26, 0.48], [76.5, -0.28, 0.04, 0.18, 0.34, 0.62], [75.5, -0.08, 0.14, 0.28, 0.42], [74.5, -0.2, 0.0, 0.24, 0.5], [73.5, -0.1, 0.1, 0.2, 0.38, 0.54], [72.5, -0.3, -0.02, 0.13, 0.31, 0.46], [71.5, -0.16, 0.07, 0.23, 0.36, 0.64], [70.5, -0.24, 0.02, 0.18, 0.3, 0.52], [69.5, -0.06, 0.12, 0.27, 0.44], [68.5, -0.2, 0.05, 0.2, 0.37, 0.58], [67.5, -0.32, -0.03, 0.15, 0.3, 0.47], [66.5, -0.12, 0.09, 0.22, 0.4], [65.5, -0.26, 0.03, 0.18, 0.34, 0.55], [64.5, -0.08, 0.12, 0.3, 0.46], [63, -0.2, 0.06, 0.24, 0.38], [61, -0.04, 0.14, 0.32, 0.5], [60.5, -0.15, 0.08, 0.28], [58.5, -0.02, 0.2, 0.38], [57.5, -0.24, 0.07, 0.26], [56.5, 0.12, 0.34],
];
const femaleDenseDbpBmi = [
  [80.8, 0.08, 0.25, 0.4], [79.8, 0.2, 0.34, -0.04], [78.8, 0.12, 0.28, 0.44], [77.8, 0.0, 0.18, 0.32], [76.8, 0.09, 0.24, 0.4], [75.8, -0.04, 0.17, 0.33, 0.46], [74.8, 0.08, 0.21, 0.36], [73.8, -0.02, 0.14, 0.28, 0.44], [72.8, 0.06, 0.2, 0.34], [71.8, -0.08, 0.11, 0.26, 0.42], [70.8, 0.04, 0.16, 0.3, 0.4], [69.8, -0.1, 0.08, 0.22, 0.36], [68.8, 0.0, 0.13, 0.27, 0.44], [67.8, 0.09, 0.24, 0.38], [66.8, -0.06, 0.16, 0.3], [65.8, 0.05, 0.2, 0.36, 0.48], [64.8, -0.12, 0.1, 0.26], [63.8, 0.02, 0.18, 0.34], [62.8, -0.08, 0.13, 0.28], [61.8, 0.06, 0.22, 0.4],
];
const maleDbpWc = [
  [124.4, 0.57], [115.7, 0.16], [113.2, 0.36], [111.6, 0.64, -0.08, 0.12], [109.4, -0.1], [108, 0.38], [106.5, 0.56], [104.4, 0.87, 0.88, 0.3], [103.5, -0.14, -0.12], [102.4, 1.19, 0.1], [101, 0.42, -0.2], [99, 0.02, 0.66], [98, 0.3, 0.52], [96, 0.16, 0.74], [95, -0.12, 0.46], [94, 0.36, 0.9],
  [93, 0.06, 0.6], [92, -0.3, 0.24], [91, 0.42, 0.8], [90.3, 1.45, -0.51, 0.12], [89, -0.16, 0.33, 0.65], [88, -0.69, 0.02, 0.5], [87, 0.2, 0.96, -0.34], [86, -0.06, 0.38, 0.7], [85, 0.14, 0.56, 1.1], [84, -0.24, 0.29, 0.84], [83, -0.42, 0.08, 0.45], [82, 0.2, 0.62, 1.0], [81.3, 1.57, -0.12, 0.35, 0.76], [80, -0.6, 0.04, 0.27, 0.52], [79, -0.28, 0.15, 0.44, 0.9], [78, -0.82, 0.0, 0.32, 0.68], [77, -0.18, 0.22, 0.48, 1.14], [76, -0.48, 0.07, 0.38, 0.8], [75, -0.1, 0.18, 0.54], [74, -1.0, -0.36, 0.12, 0.31, 0.72], [73, -0.22, 0.25, 0.6], [72, -0.68, -0.04, 0.4, 0.96], [71, -0.3, 0.1, 0.28, 0.5], [70, -0.14, 0.34, 0.78], [69.5, 1.63, 2.51, -0.52, 0.06, 0.46], [68, -0.2, 0.23, 0.62, 1.05], [67, -0.38, 0.14, 0.4], [66, -0.08, 0.3, 0.84], [65, -0.46, 0.19, 0.55], [64, 0.0, 0.35, 0.7], [63, -0.26, 0.11, 0.49], [62.5, -1.14, 0.26, 0.94], [61, -0.12, 0.42], [60, 1.32, 0.04, 0.6], [59, 0.2, 0.8], [58, -0.3, 0.36], [57, 0.12, 0.52], [55, 0.26, 0.44], [53, 0.08, 0.62], [49.5, 0.58], [47, 0.28], [43.9, 0.45],
];
const maleCoreDbpWc = [
  [92.5, 0.1, 0.44, -0.1], [90.5, 0.28, 0.54], [89.5, -0.02, 0.2, 0.5], [88.5, 0.12, 0.36], [87.5, -0.14, 0.26, 0.6], [86.5, 0.06, 0.2, 0.46], [85.5, -0.06, 0.32, 0.52], [84.5, 0.1, 0.24, 0.42, 0.66], [83.5, -0.2, 0.02, 0.16, 0.36], [82.5, -0.04, 0.28, 0.5, 0.72], [81.5, 0.1, 0.2, 0.4], [80.5, -0.18, 0.05, 0.3, 0.56], [79.5, -0.05, 0.14, 0.26, 0.46, 0.7], [78.5, -0.26, 0.08, 0.22, 0.38], [77.5, -0.08, 0.1, 0.3, 0.52], [76.5, -0.2, 0.01, 0.16, 0.28, 0.44, 0.66], [75.5, -0.04, 0.12, 0.24, 0.36, 0.58], [74.5, -0.3, 0.04, 0.2, 0.42], [73.5, -0.1, 0.15, 0.27, 0.5], [72.5, -0.2, 0.02, 0.12, 0.34, 0.62], [71.5, -0.04, 0.18, 0.24, 0.44], [70.5, -0.24, 0.06, 0.3, 0.54], [69, -0.1, 0.14, 0.36], [67.5, 0.0, 0.2, 0.28, 0.48], [66.5, -0.16, 0.08, 0.32], [65.5, 0.04, 0.24, 0.44], [64.5, -0.1, 0.16, 0.38], [63.5, 0.06, 0.3, 0.5], [61.5, 0.12, 0.26],
];
const maleDenseDbpWc = [
  [85.8, 0.12, 0.3, 0.5], [84.2, 0.02, 0.2, 0.38], [83.8, 0.28, 0.44], [82.8, 0.08, 0.16, 0.36], [81.8, -0.06, 0.22, 0.34, 0.54], [80.8, 0.12, 0.26, 0.42], [79.8, 0.02, 0.2, 0.36], [78.8, 0.14, 0.3, 0.5, -0.08], [77.8, 0.04, 0.2, 0.38], [76.8, -0.06, 0.1, 0.34, 0.52], [75.8, 0.18, 0.28, 0.42], [74.8, -0.1, 0.08, 0.22, 0.36], [73.8, 0.02, 0.16, 0.32, 0.46], [72.8, 0.08, 0.26, 0.4], [71.8, -0.1, 0.12, 0.3, 0.52], [70.8, 0.02, 0.2, 0.36], [69.8, 0.1, 0.26, 0.44], [68.8, -0.02, 0.18, 0.32], [67.8, 0.06, 0.24, 0.38], [66.8, 0.14, 0.28, 0.5], [65.8, -0.04, 0.18, 0.34],
];
const femaleDbpWc = [
  [112.9, 1.59], [108.6, 1.19], [106.7, 0.24, 0.04], [102.7, 0.69, -0.03], [101.8, -0.36, -0.02], [100, 0.14, 0.42], [99, -0.71, 0.6], [98, 0.3, -0.06], [97.6, -0.3, -0.31, 0.8, 0.94], [96, 0.06, 0.5], [94.8, 1.05, -0.15, 0.22], [93.5, 1.3, 0.68, 0.34], [92.9, -0.65, 0.0], [92, 0.46, 0.88],
  [91, -0.22, 0.16], [90.6, -1.25, 0.58], [90, 0.3, 1.0], [89, -0.34, 0.1, 0.72], [88, 0.24, 0.5], [87.3, 1.36, -0.1, 0.4, 0.82], [86, -0.42, 0.08, 0.62], [85, -0.87, 0.18, 0.96], [84, -0.2, 0.32, 0.54], [83, 0.02, 0.44, 1.12], [82, -0.55, -0.04, 0.26, 0.76], [81, 0.14, 0.66], [80, -0.32, 0.22, 0.5, 0.9], [79, -0.08, 0.36, 1.02], [78, -0.6, 0.05, 0.28, 0.7], [77, -0.24, 0.17, 0.58], [76, -0.44, 0.1, 0.42, 0.84], [75.3, 2.01, -0.02, 0.3, 0.62], [74, -0.8, -0.3, 0.2, 0.5, 1.1], [73, -0.12, 0.12, 0.38], [72, -1.18, -0.5, 0.03, 0.26, 0.74], [71, -0.2, 0.34, 0.56], [70, -0.64, 0.08, 0.44, 1.2], [69, -0.34, 0.18, 0.66], [68, -0.06, 0.28, 0.9], [67, -0.48, 0.13, 0.48], [66, -0.16, 0.36, 0.72], [65, -0.26, 0.06, 0.6], [64, -0.56, 0.24, 0.98], [63, -0.03, 0.4, 0.8], [62.6, -0.5, 1.25, -0.38, 0.16], [61, -0.12, 0.3, 0.68], [60.3, -0.69, 0.02, 0.52], [59, -0.24, 0.2, 0.86], [58, -0.04, 0.38], [57, -0.18, 0.12, 0.6], [56.6, -0.18, 0.46], [55, 0.08, 0.74], [54.2, 0.88, 0.28], [52.7, 1.03, 0.07, 0.5], [50.8, -0.02], [50, 0.91, -0.05, 0.26, 0.31, 0.55],
];
const femaleCoreDbpWc = [
  [87.5, 0.14, 0.36, -0.04], [85.5, 0.26, 0.48], [84.5, 0.04, 0.18], [83.5, -0.1, 0.3, 0.56], [82.5, 0.12, 0.38], [81.5, -0.04, 0.24, 0.48], [80.5, 0.08, 0.34, 0.6], [79.5, -0.16, 0.18, 0.28], [78.5, 0.02, 0.2, 0.42], [77.5, -0.1, 0.12, 0.32, 0.54], [76.5, -0.22, 0.03, 0.24, 0.46], [75.5, 0.1, 0.2, 0.38, 0.68], [74.5, -0.12, 0.06, 0.28, 0.44], [73.5, -0.26, 0.0, 0.16, 0.34, 0.56], [72.5, -0.06, 0.14, 0.26, 0.48], [71.5, -0.16, 0.08, 0.22, 0.4, 0.64], [70.5, -0.02, 0.18, 0.3, 0.52], [69.5, -0.24, 0.05, 0.24, 0.42], [68.5, -0.08, 0.12, 0.34, 0.6], [67.5, -0.2, 0.04, 0.2, 0.38], [66.5, -0.3, 0.1, 0.28, 0.5], [65.5, -0.06, 0.16, 0.32], [64.5, -0.18, 0.02, 0.24, 0.46], [63.5, 0.1, 0.2, 0.36, 0.62], [62, -0.12, 0.06, 0.3], [60.5, 0.14, 0.22, 0.44], [59.5, -0.08, 0.1, 0.34], [58.5, 0.02, 0.26, 0.5], [57.5, -0.12, 0.16, 0.38],
];
const femaleDenseDbpWc = [
  [80.2, 0.16, 0.28, 0.44], [79.2, 0.04, 0.22, 0.36], [78.2, 0.14, 0.3, 0.52], [77.2, -0.04, 0.18, 0.38], [76.2, 0.1, 0.28, 0.42], [75.2, -0.08, 0.06, 0.24, 0.34], [74.2, 0.12, 0.2, 0.4], [73.2, 0.04, 0.26, 0.46], [72.2, -0.12, 0.1, 0.2, 0.34], [71.2, 0.02, 0.16, 0.3, 0.48], [70.2, 0.1, 0.24, 0.38], [69.2, -0.06, 0.14, 0.3], [68.2, 0.04, 0.2, 0.36, 0.5], [67.2, -0.1, 0.1, 0.26], [66.2, 0.02, 0.18, 0.34, 0.44], [65.2, 0.12, 0.26, 0.4], [64.2, -0.04, 0.08, 0.3], [63.2, 0.04, 0.16, 0.42], [62.2, 0.12, 0.26, 0.36], [61.2, -0.04, 0.18, 0.3],
];

// regression fits as [PRS, low, fit, high]
const fitMaleSbpBmi = [[-2.79, 106, 110, 114], [-1.6, 111.8, 114.4, 117], [-0.7, 116.3, 117.8, 119.3], [0.8, 120.5, 123.3, 126.1], [2.48, 124.6, 129.6, 134.4]];
const fitFemaleSbpBmi = [[-2.79, 103.4, 107, 110.8], [-1.6, 108.2, 110.7, 113.2], [-0.7, 112.2, 113.6, 115], [0.8, 115.7, 118.3, 120.8], [2.48, 118.8, 123.6, 128.2]];
const fitMaleSbpWc = [[-2.85, 106.5, 110.8, 114.8], [-1.4, 112.4, 114.8, 117.2], [-0.6, 115.6, 117, 118.4], [1.2, 119.4, 122, 124.8], [3.38, 123.4, 128.2, 133]];
const fitFemaleSbpWc = [[-3.1, 104, 107.8, 111.5], [-1.4, 110.3, 112.6, 114.9], [-0.6, 113.1, 114.4, 115.7], [1.2, 116.1, 118.5, 120.9], [3.55, 117, 122.8, 128.4]];
const fitMaleDbpBmi = [[-0.845, 69, 71.2, 73.4], [-0.2, 73.6, 74.9, 76.2], [0.3, 76.8, 77.7, 78.6], [1.1, 80.4, 82.2, 84], [2.0, 84.2, 87.3, 90.2]];
const fitFemaleDbpBmi = [[-0.83, 66.6, 68.7, 71], [-0.2, 70.8, 72.1, 73.4], [0.3, 74.1, 75, 75.9], [1.1, 77.6, 79.4, 81.2], [1.77, 80.4, 83.1, 85.6]];
const fitMaleDbpWc = [[-1.13, 71.6, 74, 76.4], [-0.2, 74.6, 75.9, 77.2], [0.3, 76, 76.9, 77.8], [1.2, 76.8, 78.7, 80.6], [2.52, 78, 81.3, 84.4]];
const fitFemaleDbpWc = [[-1.24, 69, 71.4, 73.8], [-0.3, 72.1, 73.4, 74.7], [0.3, 73.7, 74.6, 75.5], [1.2, 74.7, 76.5, 78.3], [2.0, 75.6, 78.2, 80.6]];

const barTicks = [[0, 0.005, 0.01], [0, 0.005, 0.01, 0.015], [0, 0.003, 0.006, 0.009], [0, 0.005, 0.01, 0.015]];
const legendTicks = [[3, 6, 9], [3, 6, 9, 12], [2, 3, 4, 5, 6, 7], [2.5, 5, 7.5, 10]];
const scatterYTicks = [[75, 100, 125, 150, 175, 200], [75, 100, 125, 150, 175, 200], [40, 60, 80, 100, 120], [40, 60, 80, 100, 120]];
const scatterXTicks = [[-3, -2, -1, 0, 1, 2], [-2, 0, 2], [0, 1, 2], [-1, 0, 1, 2]];
const histYTicks = [[0, 50, 100, 150], [0, 50, 100, 150, 200], [0, 50, 100, 150], [0, 50, 100, 150, 200]];
const histXTicks = [[-3, -2, -1, 0, 1, 2], [-2, 0, 2], [-1, 0, 1, 2], [-1, 0, 1, 2]];

const barR2 = [r2SbpBmi, r2SbpWc, r2DbpBmi, r2DbpWc];
const barP = [pSbpBmi, pSbpWc, pDbpBmi, pDbpWc];
const scatterMale = [[...maleSbpBmi, ...maleCoreSbpBmi, ...maleDenseSbpBmi], [...maleSbpWc, ...maleCoreSbpWc, ...maleDenseSbpWc], [...maleDbpBmi, ...maleCoreDbpBmi, ...maleDenseDbpBmi], [...maleDbpWc, ...maleCoreDbpWc, ...maleDenseDbpWc]];
const scatterFemale = [[...femaleSbpBmi, ...femaleCoreSbpBmi, ...femaleDenseSbpBmi], [...femaleSbpWc, ...femaleCoreSbpWc, ...femaleDenseSbpWc], [...femaleDbpBmi, ...femaleCoreDbpBmi, ...femaleDenseDbpBmi], [...femaleDbpWc, ...femaleCoreDbpWc, ...femaleDenseDbpWc]];
const fitMale = [fitMaleSbpBmi, fitMaleSbpWc, fitMaleDbpBmi, fitMaleDbpWc];
const fitFemale = [fitFemaleSbpBmi, fitFemaleSbpWc, fitFemaleDbpBmi, fitFemaleDbpWc];
const histMale = [histMaleSbpBmi, histMaleSbpWc, histMaleDbpBmi, histMaleDbpWc];
const histFemale = [histFemaleSbpBmi, histFemaleSbpWc, histFemaleDbpBmi, histFemaleDbpWc];
const outcome = ["SBP", "SBP", "DBP", "DBP"];

// layout, in page pixels
const barLayout = [
  { x: 34, top: 7, bottom: 221, right: 184, y0: 211.7, yv: 0.01, yp: 72, c0: 46.3, c1: 171, bw: 19, tx: [36, 247], ty: 6.3, xTitle: [109, 247], yTitleY: 113,
    leg: { cx: 217, t1: 84, t2: 97, x0: 191.7, x1: 200.3, y0: 105.7, y1: 149, v: 9, p: 115.7, v2: 3, p2: 138.3 } },
  { x: 32.3, top: 272, bottom: 477.3, right: 178, y0: 468.3, yv: 0.015, yp: 276.7, c0: 44.7, c1: 166.3, bw: 18.3, tx: [34.7, 244.3], ty: 265.7, xTitle: [105.7, 502.7], yTitleY: 373,
    leg: { cx: 212, t1: 346, t2: 358.7, x0: 186.7, x1: 195, y0: 366.7, y1: 408, v: 12, p: 369.3, v2: 3, p2: 402.3 } },
  { x: 33.7, top: 525, bottom: 745.3, right: 179.7, y0: 735, yv: 0.009, yp: 569.7, c0: 45.3, c1: 167.3, bw: 18.3, tx: [35.7, 249], ty: 529.7, xTitle: [106.7, 772], yTitleY: 634.7,
    leg: { cx: 212.7, t1: 604, t2: 617.3, x0: 187.7, x1: 195.7, y0: 626, y1: 670.7, v: 7, p: 630, v2: 2, p2: 670 } },
  { x: 33.3, top: 786, bottom: 1001, right: 179.7, y0: 991.3, yv: 0.015, yp: 804.3, c0: 45.7, c1: 167.7, bw: 18.3, tx: [36.7, 247], ty: 787.7, xTitle: [106.7, 1027.7], yTitleY: 894.3,
    leg: { cx: 213.3, t1: 863.3, t2: 876.3, x0: 187.7, x1: 196, y0: 884.3, y1: 928.7, v: 10, p: 886.7, v2: 2.5, p2: 920 } },
];
const scatterLayout = [
  { x: 288, top: 16.7, bottom: 241.3, right: 467.7, yA: [100, 186.7], yB: [200, 19.7], xA: [0, 382.7], xB: [2, 445], tx: [302.3, 513], ty: 6.3, xt: [378, 251.7], yt: 126.7, lx: 475.7, ls: 120, l1: 128.7, l2: 137.3 },
  { x: 288.3, top: 271.7, bottom: 495.7, right: 470.7, yA: [100, 441.3], yB: [200, 274.7], xA: [0, 373.7], xB: [2, 423.7], tx: [303.3, 512.3], ty: 266.7, xt: [379.7, 506], yt: 381.7, lx: 479, ls: 374.7, l1: 383.3, l2: 392 },
  { x: 288.3, top: 534, bottom: 759.7, right: 477.7, yA: [40, 760], yB: [120, 556.3], xA: [0, 348.3], xB: [2, 469.3], tx: [302, 514.3], ty: 529.7, xt: [383, 770.3], yt: 648, lx: 486, ls: 638, l1: 646.7, l2: 655.3 },
  { x: 287.7, top: 796.7, bottom: 1021.7, right: 477.3, yA: [40, 1021.7], yB: [120, 818], xA: [0, 353.3], xB: [2, 445.3], tx: [298.7, 509.3], ty: 787.7, xt: [383, 1032], yt: 911, lx: 486, ls: 899.3, l1: 908.3, l2: 917 },
];
const histLayout = [
  { x: 560, top: 33.3, bottom: 241.3, right: 781.7, yB: [150, 52.3], y0: 231.7, xA: [0, 674.7], xB: [2, 749.3], binStart: -2.8, binW: 0.1815, tx: [574.3, 785.3], ty: 6.3, xt: [671.3, 251.7], ytX: 547, yt: 136.7, ls: 645.7, lk1: 653.3, lt1: 663.7, lk2: 676.7, lt2: 686.7, ly: 21 },
  { x: 561.7, top: 295.7, bottom: 496.7, right: 781.7, yB: [200, 305.7], y0: 487.7, xA: [0, 668.3], xB: [2, 728.3], binStart: -3.24, binW: 0.2268, tx: [575.7, 784], ty: 268, xt: [672.7, 507], ytX: 548.3, yt: 396, ls: 647.3, lk1: 654.7, lt1: 666, lk2: 677.7, lt2: 687.7, ly: 283.7 },
  { x: 564.3, top: 560, bottom: 760.3, right: 786.7, yB: [150, 598.3], y0: 751.3, xA: [0, 638], xB: [2, 775.7], binStart: -0.93, binW: 0.0998, tx: [570.7, 782.7], ty: 529.7, xt: [675.3, 770.3], ytX: 550.7, yt: 660.7, ls: 650, lk1: 658, lt1: 668, lk2: 680.7, lt2: 691, ly: 548 },
  { x: 564.3, top: 815.3, bottom: 1022, right: 786.7, yB: [200, 852.3], y0: 1012.3, xA: [0, 645], xB: [2, 750.7], binStart: -1.323, binW: 0.1279, tx: [571, 781], ty: 787.7, xt: [675.3, 1032], ytX: 550.7, yt: 918.7, ls: 650, lk1: 658, lt1: 668, lk2: 680.7, lt2: 691, ly: 803.3 },
];

const MALE = "#f8766d";
const FEMALE = "#00bfc4";
const MALE_EDGE = "#fbb0aa";
const FEMALE_EDGE = "#74dadd";
const SANS = "'Liberation Sans', Arial, sans-serif";
const AXIS = "#5f5f5f";
const TICK = "#7a7a7a";

const sciFormat = (v: number) => (v === 0 ? "0e+00" : `${v}e-04`);

function addTitle(svg: any, text: string, range: number[], y: number) {
  svg.append("text")
    .attr("x", range[0]).attr("y", y).attr("dy", "0.36em")
    .attr("textLength", range[1] - range[0])
    .attr("lengthAdjust", "spacingAndGlyphs")
    .style("font-family", "Lato, sans-serif")
    .style("font-size", "9.4px")
    .style("fill", "#828282")
    .text(text);
}

function styleAxis(g: any, size: number) {
  g.select(".domain").remove();
  g.selectAll("line").attr("stroke", AXIS).attr("stroke-width", 0.6);
  g.selectAll("text").style("font-family", SANS).style("font-size", `${size}px`).style("fill", TICK);
}

function axisFrame(svg: any, l: any) {
  svg.append("path")
    .attr("d", `M${l.x},${l.top}V${l.bottom}H${l.right}`)
    .attr("fill", "none").attr("stroke", AXIS).attr("stroke-width", 1);
}

function drawBars(svg: any, i: number) {
  const l = barLayout[i];
  const values = barR2[i];
  const labels = barP[i];
  const logP = labels.map((s) => -Math.log10(+s.replace("x10^", "e")));
  const maxP = d3.max(logP) as number;
  const color = d3.scaleLinear<string>().domain([0, maxP]).range(["dodgerblue", "firebrick"]).interpolate(d3.interpolateLab);
  const x = d3.scalePoint().domain(thresholds).range([l.c0, l.c1]);
  const y = d3.scaleLinear().domain([0, l.yv]).range([l.y0, l.yp]);

  addTitle(svg, titles[i], l.tx, l.ty);

  svg.append("g").selectAll("rect").data(values).join("rect")
    .attr("x", (_: number, k: number) => (x(thresholds[k]) as number) - l.bw / 2)
    .attr("width", l.bw)
    .attr("y", (d: number) => y(d))
    .attr("height", (d: number) => y(0) - y(d))
    .attr("fill", (_: number, k: number) => color(logP[k]))
    .attr("stroke", "#fff").attr("stroke-opacity", 0.55).attr("stroke-width", 0.8);

  // p-value labels, rotated over each bar
  values.forEach((d, k) => {
    const parts = labels[k].split("^");
    const t = svg.append("text")
      .attr("transform", `translate(${(x(thresholds[k]) as number) - 5.5},${y(d) - 5}) rotate(-45)`)
      .style("font-family", SANS).style("font-size", "5px").style("fill", "#555");
    t.append("tspan").text(parts[0]);
    if (parts[1]) t.append("tspan").attr("dy", -2).style("font-size", "3.6px").text(parts[1].replace("-", "\u2212"));
  });

  const yAxis = svg.append("g").attr("transform", `translate(${l.x},0)`)
    .call(d3.axisLeft(y).tickValues(barTicks[i]).tickSize(2).tickPadding(1.5).tickFormat(d3.format(".3f") as any));
  styleAxis(yAxis, 6.4);
  const xAxis = svg.append("g").attr("transform", `translate(0,${l.bottom})`)
    .call(d3.axisBottom(x).tickSize(2));
  styleAxis(xAxis, 6.4);
  xAxis.selectAll("text").attr("x", 0).attr("y", 0).attr("dy", "0.35em")
    .attr("text-anchor", "end").attr("transform", "translate(4,6) rotate(-45)");
  axisFrame(svg, l);

  const xt = svg.append("text").attr("x", l.xTitle[0]).attr("y", l.xTitle[1]).attr("dy", "0.35em")
    .attr("text-anchor", "middle").style("font-family", SANS).style("font-size", "9.1px").style("fill", "#333");
  xt.append("tspan").style("font-style", "italic").text("P");
  xt.append("tspan").text(" \u2212 value threshold (");
  xt.append("tspan").style("font-style", "italic").text("P");
  xt.append("tspan").attr("dy", 1.8).style("font-size", "6.2px").text("T");
  xt.append("tspan").attr("dy", -1.8).text(")");

  const yt = svg.append("text")
    .attr("transform", `translate(8.5,${l.yTitleY}) rotate(-90)`)
    .attr("dy", "0.35em").attr("text-anchor", "middle")
    .style("font-family", SANS).style("font-size", "9.6px").style("fill", "#333");
  yt.append("tspan").text("PRS model fit:\u00a0\u00a0R");
  yt.append("tspan").attr("dy", -3.2).style("font-size", "6.6px").text("2");

  // colour legend
  const leg = l.leg;
  const legY = d3.scaleLinear().domain([leg.v, leg.v2]).range([leg.p, leg.p2]);
  const gradId = `grad${i}`;
  const grad = svg.append("defs").append("linearGradient").attr("id", gradId)
    .attr("x1", 0).attr("x2", 0).attr("y1", 1).attr("y2", 0);
  const minP = d3.min(logP) as number;
  d3.range(0, 1.01, 0.1).forEach((t) => {
    grad.append("stop").attr("offset", t).attr("stop-color", color(minP + (maxP - minP) * t));
  });
  svg.append("rect").attr("x", leg.x0).attr("y", leg.y0).attr("width", leg.x1 - leg.x0).attr("height", leg.y1 - leg.y0)
    .attr("fill", `url(#${gradId})`);
  legendTicks[i].forEach((v) => {
    svg.append("path")
      .attr("d", `M${leg.x0},${legY(v)}h1.6M${leg.x1},${legY(v)}h-1.6`)
      .attr("stroke", "#fff").attr("stroke-width", 0.4);
    svg.append("text").attr("x", leg.x1 + 3.6).attr("y", legY(v)).attr("dy", "0.35em")
      .style("font-family", SANS).style("font-size", "5.8px").style("fill", "#333")
      .text(i === 3 ? d3.format(".1f")(v) : v);
  });
  const lt = svg.append("text").attr("x", leg.cx).attr("y", leg.t1).attr("dy", "0.35em").attr("text-anchor", "middle")
    .style("font-family", SANS).style("font-size", "9px").style("fill", "#333");
  lt.append("tspan").text("\u2212log");
  lt.append("tspan").attr("dy", 1.8).style("font-size", "6px").text("10");
  lt.append("tspan").attr("dy", -1.8).text(" model");
  const lt2 = svg.append("text").attr("x", leg.cx).attr("y", leg.t2).attr("dy", "0.35em").attr("text-anchor", "middle")
    .style("font-family", SANS).style("font-size", "9px").style("fill", "#333");
  lt2.append("tspan").style("font-style", "italic").text("P");
  lt2.append("tspan").text(" \u2212 value");
}

function drawScatter(svg: any, i: number) {
  const l = scatterLayout[i];
  const x = d3.scaleLinear().domain([l.xA[0], l.xB[0]]).range([l.xA[1], l.xB[1]]);
  const y = d3.scaleLinear().domain([l.yA[0], l.yB[0]]).range([l.yA[1], l.yB[1]]);

  addTitle(svg, titles[i], l.tx, l.ty);

  const flatten = (rows: number[][]) => rows.flatMap((r) => r.slice(1).map((px) => [px, r[0]]));
  const male = flatten(scatterMale[i]);
  const female = flatten(scatterFemale[i]);
  // mixed plot order, as in the data file
  const pts: { p: number[]; c: string }[] = [];
  d3.range(Math.max(male.length, female.length)).forEach((k) => {
    if (female[k]) pts.push({ p: female[k], c: FEMALE });
    if (male[k]) pts.push({ p: male[k], c: MALE });
  });
  svg.append("g").selectAll("circle").data(pts).join("circle")
    .attr("cx", (d: any) => x(d.p[0])).attr("cy", (d: any) => y(d.p[1]))
    .attr("r", 1.2).attr("fill", (d: any) => d.c);

  const band = d3.area<number[]>().x((d) => x(d[0])).y0((d) => y(d[1])).y1((d) => y(d[3])).curve(d3.curveMonotoneX);
  const line = d3.line<number[]>().x((d) => x(d[0])).y((d) => y(d[2]));
  [{ f: fitMale[i], c: MALE }, { f: fitFemale[i], c: FEMALE }].forEach(({ f, c }) => {
    svg.append("path").attr("d", band(f)).attr("fill", "#999").attr("fill-opacity", 0.36);
    svg.append("path").attr("d", line(f)).attr("fill", "none").attr("stroke", c).attr("stroke-width", 1);
  });

  const yAxis = svg.append("g").attr("transform", `translate(${l.x},0)`)
    .call(d3.axisLeft(y).tickValues(scatterYTicks[i]).tickSize(1.2).tickPadding(1));
  styleAxis(yAxis, 3.9);
  const xAxis = svg.append("g").attr("transform", `translate(0,${l.bottom})`)
    .call(d3.axisBottom(x).tickValues(scatterXTicks[i]).tickSize(1.2).tickPadding(1).tickFormat(sciFormat as any));
  styleAxis(xAxis, 3.9);
  axisFrame(svg, l);

  smallTitle(svg, "PRS", l.xt[0], l.xt[1], false);
  smallTitle(svg, outcome[i], 274.7, l.yt, true);

  // legend
  svg.append("text").attr("x", l.lx).attr("y", l.ls).attr("dy", "0.35em")
    .style("font-family", SANS).style("font-size", "4.6px").style("font-weight", "bold").style("fill", "#333").text("sex");
  [{ y0: l.l1, c: MALE, t: "Male" }, { y0: l.l2, c: FEMALE, t: "Female" }].forEach(({ y0, c, t }) => {
    svg.append("rect").attr("x", l.lx).attr("y", y0 - 4.3).attr("width", 8).attr("height", 8.6).attr("fill", "#d0d0d0");
    svg.append("line").attr("x1", l.lx + 0.8).attr("x2", l.lx + 7.2).attr("y1", y0).attr("y2", y0).attr("stroke", c).attr("stroke-width", 1);
    svg.append("circle").attr("cx", l.lx + 4).attr("cy", y0).attr("r", 1).attr("fill", c);
    svg.append("text").attr("x", l.lx + 10.4).attr("y", y0).attr("dy", "0.35em")
      .style("font-family", SANS).style("font-size", "4.4px").style("fill", "#444").text(t);
  });
}

function smallTitle(svg: any, text: string, px: number, py: number, rotate: boolean) {
  svg.append("text")
    .attr("transform", `translate(${px},${py})${rotate ? " rotate(-90)" : ""}`)
    .attr("dy", "0.35em").attr("text-anchor", "middle")
    .style("font-family", SANS).style("font-size", "5px").style("fill", "#444")
    .text(text);
}

function drawHist(svg: any, i: number) {
  const l = histLayout[i];
  const x = d3.scaleLinear().domain([l.xA[0], l.xB[0]]).range([l.xA[1], l.xB[1]]);
  const y = d3.scaleLinear().domain([0, l.yB[0]]).range([l.y0, l.yB[1]]);
  const half = l.binW / 2;

  addTitle(svg, titles[i], l.tx, l.ty);

  // dodged bars, female underneath so the male edges win on shared sides
  const series = [
    { counts: histFemale[i], offset: half, edge: FEMALE_EDGE, fill: "#f7fcfc" },
    { counts: histMale[i], offset: 0, edge: MALE_EDGE, fill: "#feeeec" },
  ];
  series.forEach(({ counts, offset, edge, fill }) => {
    svg.append("g").selectAll("rect").data(counts).join("rect")
      .attr("x", (_: number, k: number) => x(l.binStart + k * l.binW + offset))
      .attr("width", x(half) - x(0))
      .attr("y", (d: number) => y(d))
      .attr("height", (d: number) => y(0) - y(d))
      .attr("fill", fill)
      .attr("stroke", edge).attr("stroke-width", 0.9);
  });

  const yAxis = svg.append("g").attr("transform", `translate(${l.x},0)`)
    .call(d3.axisLeft(y).tickValues(histYTicks[i]).tickSize(1.2).tickPadding(1));
  styleAxis(yAxis, 3.9);
  const xAxis = svg.append("g").attr("transform", `translate(0,${l.bottom})`)
    .call(d3.axisBottom(x).tickValues(histXTicks[i]).tickSize(1.2).tickPadding(1).tickFormat(sciFormat as any));
  styleAxis(xAxis, 3.9);
  axisFrame(svg, l);

  smallTitle(svg, "SCORE", l.xt[0], l.xt[1], false);
  smallTitle(svg, "count", l.ytX, l.yt, true);

  svg.append("text").attr("x", l.ls).attr("y", l.ly).attr("dy", "0.35em")
    .style("font-family", SANS).style("font-size", "4.4px").style("font-weight", "bold").style("fill", "#333").text("sex");
  [{ kx: l.lk1, tx: l.lt1, edge: MALE_EDGE, t: "Male" }, { kx: l.lk2, tx: l.lt2, edge: FEMALE_EDGE, t: "Female" }].forEach(({ kx, tx, edge, t }) => {
    svg.append("rect").attr("x", kx).attr("y", l.ly - 3.8).attr("width", 7.6).attr("height", 7.6)
      .attr("fill", "#fff").attr("stroke", edge).attr("stroke-width", 0.9);
    svg.append("text").attr("x", tx).attr("y", l.ly).attr("dy", "0.35em")
      .style("font-family", SANS).style("font-size", "4.2px").style("fill", "#444").text(t);
  });
}

export default function App() {
  const svgRef = useRef<SVGSVGElement>(null);

  useEffect(() => {
    const svg = d3.select(svgRef.current);
    svg.selectAll("*").remove();
    titles.forEach((_, i) => {
      drawBars(svg, i);
      drawScatter(svg, i);
      drawHist(svg, i);
    });
  }, []);

  return (
    <svg
      ref={svgRef}
      width={788}
      height={1036}
      style={{ position: "absolute", left: 0, top: 0, background: "#fff", filter: "blur(0.3px)" }}
    />
  );
}
